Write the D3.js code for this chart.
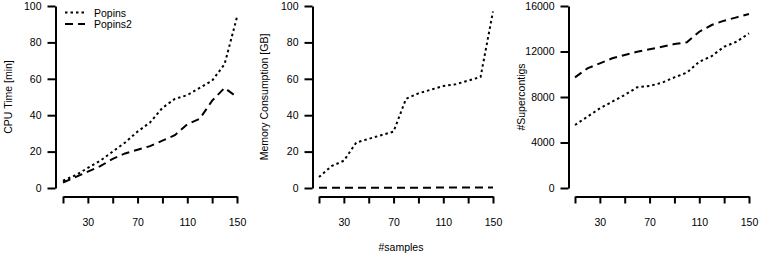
<!DOCTYPE html>
<html><head><meta charset="utf-8">
<script src="https://cdn.jsdelivr.net/npm/d3@7"></script>
<style>
body{margin:0;background:#fff;}
text{font-family:"Liberation Sans",Arial,Helvetica,sans-serif;font-size:10.5px;fill:#000;}
</style></head>
<body><svg id="c" width="760" height="256"></svg>
<script>
const samples = [10,20,30,40,50,60,70,80,90,100,110,120,130,140,150];
const xTicks = [10,30,50,70,90,110,130,150];
const xTickLabels = [30,70,110,150];
const seriesNames = ["Popins","Popins2"];

const cpuPopins  = [4,7,11,15,20,25,31,36,44,49,51,55,59,68,94];
const cpuPopins2 = [3,6,9,12,16,19,21,23,26,29,35,38,48,55,50];

const memPopins  = [6,12,15,25,27,29,31,49,52,54,56,57,59,61,97];
const memPopins2 = [0.2,0.2,0.2,0.2,0.2,0.2,0.2,0.2,0.2,0.2,0.3,0.3,0.3,0.3,0.3];

const scPopins  = [5540,6270,7000,7590,8180,8850,8970,9260,9730,10140,11100,11600,12420,12860,13600];
const scPopins2 = [9730,10520,10960,11400,11690,11980,12190,12420,12660,12810,13740,14330,14710,15000,15300];

const cpuTicks = [0,20,40,60,80,100];
const memTicks = [0,20,40,60,80,100];
const scTicks = [0,4000,8000,12000,16000];

const styles = [{dash:"2.5,3"},{dash:"8,5"}];

const svg = d3.select("#c");

const panels = [
  {yAxisX:55.5, x0:63, x1:237, ylabel:"CPU Time [min]", ylabX:8, ymax:100, yticks:cpuTicks, data:[cpuPopins,cpuPopins2]},
  {yAxisX:312.5, x0:319, x1:493, ylabel:"Memory Consumption [GB]", ylabX:264, ymax:100, yticks:memTicks, data:[memPopins,memPopins2]},
  {yAxisX:568.5, x0:575, x1:749, ylabel:"#Supercontigs", ylabX:521, ymax:16000, yticks:scTicks, data:[scPopins,scPopins2]}
];

panels.forEach(p => {
  const x = d3.scaleLinear().domain([10,150]).range([p.x0,p.x1]);
  const y = d3.scaleLinear().domain([0,p.ymax]).range([188,6]);

  const xa = svg.append("g").attr("transform","translate(0,196.5)")
    .call(d3.axisBottom(x).tickValues(xTicks).tickSize(7).tickSizeOuter(0).tickPadding(15)
      .tickFormat(d => xTickLabels.includes(d) ? d : ""));
  const ya = svg.append("g").attr("transform",`translate(${p.yAxisX},0)`)
    .call(d3.axisLeft(y).tickValues(p.yticks).tickSize(8).tickSizeOuter(0).tickPadding(6)
      .tickFormat(d3.format("d")));
  [xa,ya].forEach(a=>{
    a.selectAll("path,line").attr("stroke","#000").attr("stroke-width",2);
    a.selectAll("text").style("font-size","10.5px").attr("fill","#000");
  });

  svg.append("text").attr("transform",`translate(${p.ylabX},97) rotate(-90)`)
    .attr("text-anchor","middle").attr("dominant-baseline","central").text(p.ylabel);

  const line = d3.line().x((d,i)=>x(samples[i])).y(d=>y(d));
  p.data.forEach((s,k)=>{
    svg.append("path").attr("d",line(s)).attr("fill","none").attr("stroke","#000")
      .attr("stroke-width",2).attr("stroke-dasharray",styles[k].dash);
  });
});

svg.append("text").attr("x",401).attr("y",247).attr("text-anchor","middle")
  .attr("dominant-baseline","central").text("#samples");

// legend
seriesNames.forEach((n,k)=>{
  const yy = k===0 ? 12.5 : 24;
  svg.append("line").attr("x1",65).attr("x2",85).attr("y1",yy).attr("y2",yy)
    .attr("stroke","#000").attr("stroke-width",2).attr("stroke-dasharray",styles[k].dash);
  svg.append("text").attr("x",94).attr("y",yy).attr("dominant-baseline","central").text(n);
});
</script></body></html>
